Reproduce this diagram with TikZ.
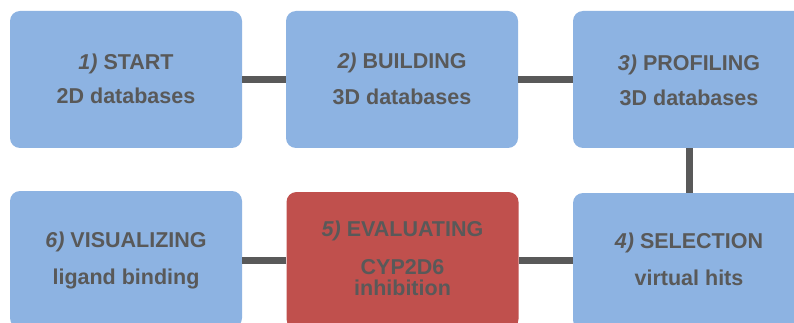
\documentclass[tikz,border=0pt]{standalone}
\usepackage{fontspec}
\setmainfont{Liberation Sans}
\definecolor{boxblue}{HTML}{8DB3E2}
\definecolor{boxred}{HTML}{C0504D}
\definecolor{txtgray}{HTML}{595959}
\begin{document}
\begin{tikzpicture}[x=1pt,y=-1pt,
  stepbox/.style={rectangle, rounded corners=10pt, minimum width=232pt, minimum height=137pt, inner sep=0pt, draw=none},
  bluebox/.style={stepbox, fill=boxblue},
  redbox/.style={stepbox, fill=boxred},
  lbl/.style={text=txtgray, font=\fontsize{21.5}{24}\selectfont\bfseries, inner sep=0pt, text height=15.5pt, text depth=0pt, anchor=center},
  link/.style={draw=txtgray, line width=7pt}]
\useasboundingbox (0,0) rectangle (794,323);
\clip (0,0) rectangle (794,323);
\fill[white] (0,0) rectangle (794,323);
% boxes
\node[bluebox] (b1) at (126,79.5) {};
\node[bluebox] (b2) at (402,79.5) {};
\node[bluebox] (b3) at (689,79.5) {};
\node[bluebox] (b4) at (689,261.5) {};
\node[redbox]  (b5) at (402.5,260.5) {};
\node[bluebox] (b6) at (126,259.5) {};
% connectors
\draw[link] (b1.east) -- (b2.west);
\draw[link] (b2.east) -- (b3.west);
\draw[link] (b3.south) -- (b4.north);
\draw[link] (b4.west |- 0,260) -- (b5.east |- 0,260);
\draw[link] (b5.west |- 0,260) -- (b6.east |- 0,260);
% labels
\node[lbl] (t1a) at (126,62) {\textit{1)} START};
\node[lbl] (t1b) at (126,96) {2D databases};
\node[lbl] (t2a) at (402,61) {\textit{2)} BUILDING};
\node[lbl] (t2b) at (402,97) {3D databases};
\node[lbl] (t3a) at (689,63) {\textit{3)} PROFILING};
\node[lbl] (t3b) at (689,98) {3D databases};
\node[lbl] (t4a) at (689,241) {\textit{4)} SELECTION};
\node[lbl] (t4b) at (689,278) {virtual hits};
\node[lbl] (t5a) at (402.5,229) {\textit{5)} EVALUATING};
\node[lbl] (t5b) at (402.5,267) {CYP2D6};
\node[lbl] (t5c) at (402.5,288) {inhibition};
\node[lbl] (t6a) at (126,240) {\textit{6)} VISUALIZING};
\node[lbl] (t6b) at (126,277) {ligand binding};
\end{tikzpicture}
\end{document}
